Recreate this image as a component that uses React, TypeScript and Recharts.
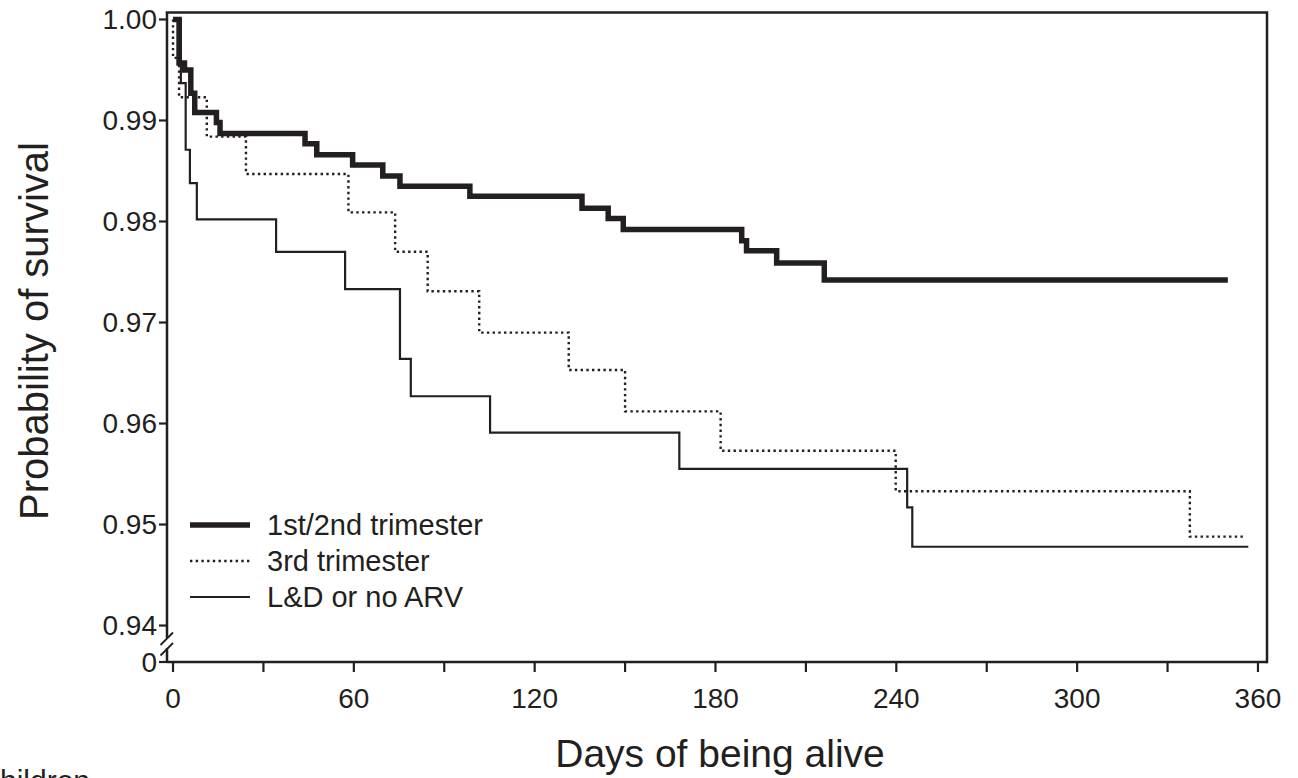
import { LineChart, Line, XAxis, YAxis } from "recharts";

const W = 1298;
const H = 778;
const INK = "#231f20";
const FONT = '"Liberation Sans", Arial, Helvetica, sans-serif';

// Kaplan-Meier steps (days of being alive -> survival)
const trim12Days = [0, 2.0, 3.8, 5.9, 7.2, 14.4, 15.6, 43.8, 47.7, 59.6, 69.6, 75.3, 98.5, 135.7, 144.4, 149.4, 188.7, 190.3, 200.3, 216.1, 350.0];
const trim12Surv = [1.0, 0.9957, 0.995, 0.9927, 0.9908, 0.9898, 0.9887, 0.9877, 0.9866, 0.9856, 0.9845, 0.9835, 0.9825, 0.9813, 0.9803, 0.9792, 0.9781, 0.9771, 0.9759, 0.9742, 0.9742];

const trim3Days = [0, 0, 2.0, 11.2, 24.2, 58.2, 73.7, 84.5, 101.6, 131.3, 150.0, 181.7, 239.8, 337.4, 355.1];
const trim3Surv = [1.0, 0.9962, 0.9923, 0.9884, 0.9847, 0.9809, 0.977, 0.9731, 0.969, 0.9653, 0.9612, 0.9573, 0.9533, 0.9488, 0.9488];

const ldDays = [0, 2.6, 4.2, 5.6, 7.9, 34.2, 57.1, 75.3, 78.9, 105.2, 168.0, 243.6, 245.3, 356.8];
const ldSurv = [1.0, 0.9937, 0.9871, 0.9838, 0.9802, 0.977, 0.9733, 0.9664, 0.9627, 0.9591, 0.9555, 0.9517, 0.9478, 0.9478];

// the "0" tick sits below the axis break
const BREAK_AT = 0.93639;
const Y_TOP = 1.00069;
const yTicks = [BREAK_AT, 0.94, 0.95, 0.96, 0.97, 0.98, 0.99, 1.0];
const xTicks = [0, 30, 60, 90, 120, 150, 180, 210, 240, 270, 300, 330, 360];

const toPoints = (days: number[], surv: number[]) =>
  days.map((d, i) => ({ day: d, s: surv[i] }));

const series = [
  { name: "1st/2nd trimester", data: toPoints(trim12Days, trim12Surv), width: 5.5, dash: undefined as string | undefined },
  { name: "3rd trimester", data: toPoints(trim3Days, trim3Surv), width: 2.4, dash: "2.4 3.3" },
  { name: "L&D or no ARV", data: toPoints(ldDays, ldSurv), width: 2.2, dash: undefined as string | undefined },
];

// plot box (matches chart margins + axis sizes below)
const PLOT = { left: 167, top: 12.5, right: 1267, bottom: 662 };

function KmLegend() {
  return (
    <div
      style={{
        position: "absolute",
        left: 190,
        top: 507,
        fontFamily: FONT,
        color: INK,
        fontSize: 29,
        lineHeight: "36px",
      }}
    >
      {series.map((s) => (
        <div key={s.name} style={{ display: "flex", alignItems: "center", height: 36 }}>
          <svg width={77} height={12} style={{ display: "block" }}>
            <line x1={0} y1={6} x2={60} y2={6} stroke={INK} strokeWidth={s.width} strokeDasharray={s.dash} />
          </svg>
          <span>{s.name}</span>
        </div>
      ))}
    </div>
  );
}

export default function App() {
  const tickStyle = { fontSize: 28, fill: INK, fontFamily: FONT };
  return (
    <div style={{ position: "absolute", left: 0, top: 0, width: W, height: H, overflow: "hidden", background: "#fff" }}>
      <LineChart
        width={W}
        height={H}
        margin={{ top: PLOT.top, right: W - PLOT.right, bottom: H - PLOT.bottom - 60, left: PLOT.left - 100 }}
      >
        <XAxis
          dataKey="day"
          type="number"
          domain={[-2, 363]}
          ticks={xTicks}
          interval={0}
          allowDataOverflow
          tickFormatter={(v: number) => (v % 60 === 0 ? String(v) : "")}
          tick={tickStyle}
          tickSize={10}
          tickMargin={16}
          height={60}
          stroke={INK}
          strokeWidth={2.5}
          tickLine={{ stroke: INK, strokeWidth: 2.2 }}
        />
        <YAxis
          type="number"
          domain={[BREAK_AT, Y_TOP]}
          ticks={yTicks}
          interval={0}
          allowDataOverflow
          tickFormatter={(v: number) => (v === BREAK_AT ? "0" : v.toFixed(2))}
          tick={tickStyle}
          tickSize={8}
          tickMargin={2}
          width={100}
          stroke={INK}
          strokeWidth={2.5}
          tickLine={{ stroke: INK, strokeWidth: 2.2 }}
        />
        {series.map((s) => (
          <Line
            key={s.name}
            name={s.name}
            data={s.data}
            dataKey="s"
            type="stepAfter"
            stroke={INK}
            strokeWidth={s.width}
            strokeDasharray={s.dash}
            strokeLinecap="butt"
            strokeLinejoin="miter"
            dot={false}
            activeDot={false}
            isAnimationActive={false}
          />
        ))}
      </LineChart>
      <KmLegend />
      <svg width={W} height={H} style={{ position: "absolute", left: 0, top: 0, pointerEvents: "none" }}>
        {/* top and right edges of the box */}
        <polyline
          points={`${PLOT.left - 1.25},${PLOT.top} ${PLOT.right},${PLOT.top} ${PLOT.right},${PLOT.bottom + 1.25}`}
          fill="none"
          stroke={INK}
          strokeWidth={2.5}
        />
        {/* axis break */}
        <rect x={163.5} y={638} width={7} height={10} fill="#fff" />
        <line x1={160.5} y1={645} x2={173} y2={632.5} stroke={INK} strokeWidth={1.8} />
        <line x1={160.5} y1={655.5} x2={173} y2={643} stroke={INK} strokeWidth={1.8} />
        <text
          x={0}
          y={0}
          transform="translate(48 331) rotate(-90)"
          textAnchor="middle"
          fontFamily={FONT}
          fontSize={40}
          fill={INK}
        >
          Probability of survival
        </text>
        <text x={720} y={767} textAnchor="middle" fontFamily={FONT} fontSize={39} fill={INK}>
          Days of being alive
        </text>
        <text x={-15} y={791} fontFamily={FONT} fontSize={30} fill={INK}>
          children
        </text>
      </svg>
    </div>
  );
}
